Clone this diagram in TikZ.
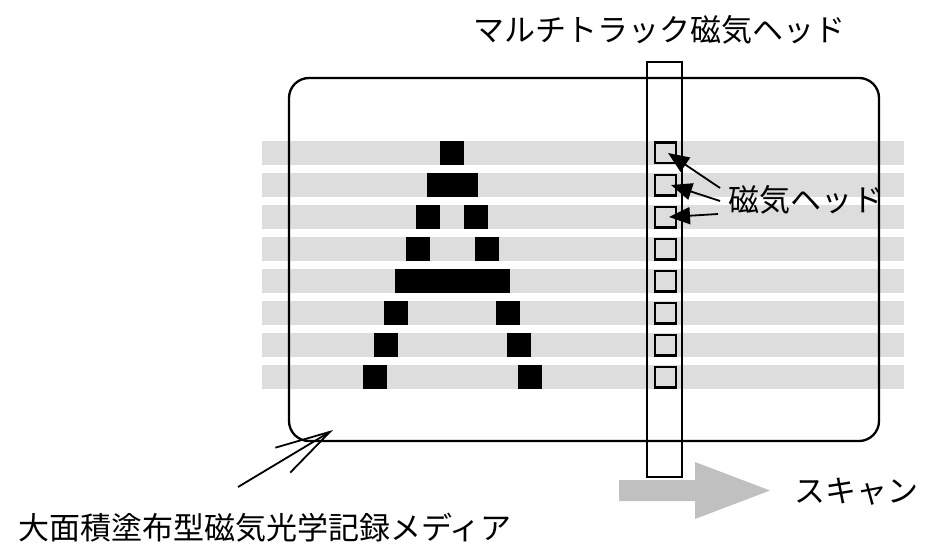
\documentclass[tikz,border=0pt]{standalone}
\usepackage{fontspec}
\setmainfont{Noto Sans CJK JP}
\usetikzlibrary{arrows.meta,calc}
\definecolor{stripe}{HTML}{DDDDDD}
\definecolor{scan}{HTML}{C0C0C0}
\tikzset{
  lbl/.style={font=\fontsize{31}{36}\selectfont, inner sep=0pt},
  headbox/.style={draw, line width=2.2pt, minimum width=20.8pt, minimum height=20.8pt, inner sep=0pt, outer sep=0pt},
  ptr/.style={line width=1.8pt, -{Triangle[length=21pt,width=17pt]}},
  medptr/.style={line width=1.8pt, -{Straight Barb[length=55pt,width=29pt]}},
  blk/.style={fill=black}
}
\begin{document}
\begin{tikzpicture}[x=1pt,y=-1pt]
\useasboundingbox (0,0) rectangle (925,548);
% stripes
\foreach \i in {0,...,7}{
  \fill[stripe] (262,{141+32*\i}) rectangle (904,{165+32*\i});
}
% letter A blocks
\fill[blk] (440,141) rectangle (464,165);
\fill[blk] (427,173) rectangle (478,197);
\fill[blk] (416,205) rectangle (440,229);
\fill[blk] (464,205) rectangle (488,229);
\fill[blk] (406,237) rectangle (430,261);
\fill[blk] (475,237) rectangle (499,261);
\fill[blk] (395,269) rectangle (510,293);
\fill[blk] (384,301) rectangle (408,325);
\fill[blk] (496,301) rectangle (520,325);
\fill[blk] (374,333) rectangle (398,357);
\fill[blk] (507,333) rectangle (531,357);
\fill[blk] (363,365) rectangle (387,389);
\fill[blk] (518,365) rectangle (542,389);
% media
\draw[line width=2.3pt, rounded corners=20pt] (289,78) rectangle (879,441);
% multitrack head
\draw[line width=2.2pt] (647,62) rectangle (682,477);
\foreach \i in {1,...,8}{
  \node[headbox] (h\i) at (665.5,{153+32*(\i-1)}) {};
}
% labels
\node[lbl] (mth) at (659,30) {マルチトラック磁気ヘッド};
\node[lbl, anchor=west] (mh) at (728,200) {磁気ヘッド};
\node[lbl] (scanlbl) at (856,492) {スキャン};
\node[lbl] (media) at (265,528) {大面積塗布型磁気光学記録メディア};
% head pointers
\coordinate (p1) at (720,188);
\coordinate (p2) at (720,201);
\coordinate (p3) at (718,214);
\draw[ptr] (p1) -- ($(h1.center)+(2.5,0)$);
\draw[ptr] (p2) -- ($(h2.center)+(5.5,0)$);
\draw[ptr] (p3) -- ($(h3.center)+(3.5,0)$);
% media pointer
\coordinate (m0) at (238,487);
\coordinate (m1) at (333,430);
\draw[medptr] (m0) -- (m1);
% scan arrow
\fill[scan] (619,480) -- (695,480) -- (695,462) -- (770,490.5) -- (695,519) -- (695,501) -- (619,501) -- cycle;
\end{tikzpicture}
\end{document}
